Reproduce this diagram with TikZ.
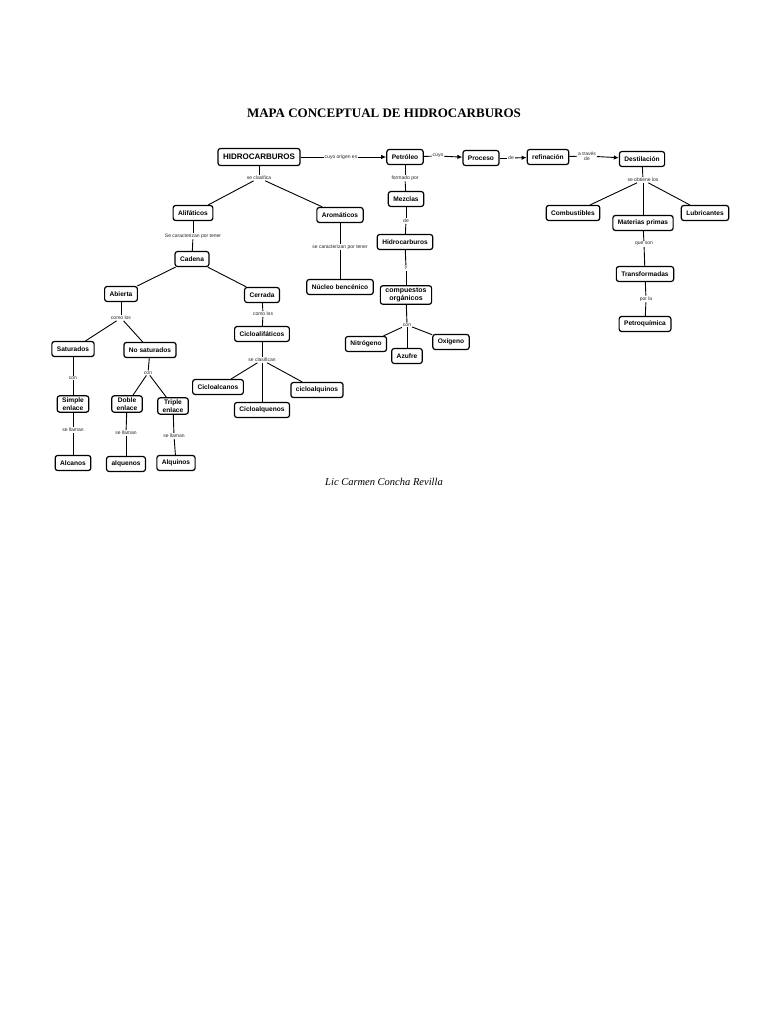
\documentclass[tikz,border=0pt]{standalone}
\usepackage{fontspec}
\setmainfont{Liberation Serif}
\setsansfont{Liberation Sans}
\usetikzlibrary{arrows.meta}

\begin{document}
\begin{tikzpicture}[x=1pt,y=-1pt,
    box/.style={draw=black,line width=1.2pt,rounded corners=2.5pt,fill=white,inner xsep=5pt,inner ysep=2pt,minimum height=15pt,align=center,font=\sffamily\bfseries\fontsize{6.6}{7.5}\selectfont},
    lbl/.style={fill=white,inner sep=0.8pt,align=center,text=black!85,font=\sffamily\fontsize{5}{5.4}\selectfont},
    every edge/.append style={line width=0.9pt},
    arr/.style={-{Latex[length=5pt,width=4.5pt]}}]
            \useasboundingbox (0,0) rectangle (768,1024);

            \node (title) at (384,113) {\fontsize{13}{15}\selectfont\bfseries MAPA CONCEPTUAL DE HIDROCARBUROS};
            \node (autor) at (384,482) {\fontsize{10.5}{12}\selectfont\itshape Lic Carmen Concha Revilla};

            % fila superior
            \node[box,font=\sffamily\bfseries\fontsize{8}{9}\selectfont,minimum height=17pt] (hc) at (259,157) {HIDROCARBUROS};
            \node[box] (pet) at (405,157) {Petróleo};
            \node[box] (proc) at (481,158) {Proceso};
            \node[box] (ref) at (548,157) {refinación};
            \node[box] (dest) at (642,159) {Destilación};
            \node[lbl] (l1) at (341,157) {cuyo origen es};
            \node[lbl] (l2) at (438,156) {cuyo};
            \node[lbl] (l3) at (511,158) {de};
            \node[lbl] (l4) at (587,156) {a través\\de};

            \path [-] (hc) edge (l1);
            \path [arr] (l1) edge (pet);
            \path [-] (pet) edge (l2);
            \path [arr] (l2) edge (proc);
            \path [-] (proc) edge (l3);
            \path [arr] (l3) edge (ref);
            \path [-] (ref) edge (l4);
            \path [arr] (l4) edge (dest);

            % destilacion
            \node[lbl] (l5) at (643,180) {se obtiene los};
            \node[box] (comb) at (573,213) {Combustibles};
            \node[box] (mat) at (643,223) {Materias primas};
            \node[box] (lub) at (705,213) {Lubricantes};
            \node[lbl] (l6) at (644,244) {que son};
            \node[box] (trans) at (645,274) {Transformadas};
            \node[lbl] (l7) at (646,299) {por la};
            \node[box] (petq) at (645,324) {Petroquímica};

            \path [-] (dest) edge (l5);
            \path [-] (l5) edge (comb);
            \path [-] (l5) edge (mat);
            \path [-] (l5) edge (lub);
            \path [-] (mat) edge (l6);
            \path [-] (l6) edge (trans);
            \path [-] (trans) edge (l7);
            \path [-] (l7) edge (petq);

            % petroleo
            \node[lbl] (l8) at (405,178) {formado por};
            \node[box] (mez) at (406,199) {Mezclas};
            \node[lbl] (l9) at (406,221) {de};
            \node[box] (hid) at (405,242) {Hidrocarburos};
            \node[lbl] (l10) at (406,268) {y};
            \node[box,font=\sffamily\bfseries\fontsize{7}{8.5}\selectfont] (comp) at (406,295) {compuestos\\orgánicos};
            \node[lbl] (l11) at (407,325) {con};
            \node[box] (nit) at (366,344) {Nitrógeno};
            \node[box] (azu) at (407,356) {Azufre};
            \node[box] (oxi) at (451,342) {Oxígeno};

            \path [-] (pet) edge (l8);
            \path [-] (l8) edge (mez);
            \path [-] (mez) edge (l9);
            \path [-] (l9) edge (hid);
            \path [-] (hid) edge (l10);
            \path [-] (l10) edge (comp);
            \path [-] (comp) edge (l11);
            \path [-] (l11) edge (nit);
            \path [-] (l11) edge (azu);
            \path [-] (l11) edge (oxi);

            % clasificacion
            \node[lbl] (l12) at (259,178) {se clasifica};
            \node[box] (ali) at (193,213) {Alifáticos};
            \node[box] (aro) at (340,215) {Aromáticos};
            \node[lbl] (l13) at (193,236) {Se caracterizan por tener};
            \node[lbl] (l14) at (340,247) {se caracterizan por tener};
            \node[box] (nuc) at (340,287) {Núcleo bencénico};
            \node[box] (cad) at (192,259) {Cadena};
            \node[box] (abi) at (121,294) {Abierta};
            \node[box] (cer) at (262,295) {Cerrada};

            \path [-] (hc) edge (l12);
            \path [-] (l12) edge (ali);
            \path [-] (l12) edge (aro);
            \path [-] (ali) edge (l13);
            \path [-] (l13) edge (cad);
            \path [-] (aro) edge (l14);
            \path [-] (l14) edge (nuc);
            \path [-] (cad) edge (abi);
            \path [-] (cad) edge (cer);

            % cadena abierta
            \node[lbl] (l15) at (121,318) {como los};
            \node[box] (sat) at (73,349) {Saturados};
            \node[box] (nosat) at (150,350) {No saturados};
            \node[lbl] (l16) at (73,378) {con};
            \node[lbl] (l17) at (148,373) {con};
            \node[box] (sim) at (73,404) {Simple\\enlace};
            \node[box] (dob) at (127,404) {Doble\\enlace};
            \node[box] (tri) at (173,406) {Triple\\enlace};
            \node[lbl] (l18) at (73,430) {se llaman};
            \node[lbl] (l19) at (126,433) {se llaman};
            \node[lbl] (l20) at (174,436) {se llaman};
            \node[box] (alc) at (73,463) {Alcanos};
            \node[box] (alq) at (126,464) {alquenos};
            \node[box] (alqi) at (176,463) {Alquinos};

            \path [-] (abi) edge (l15);
            \path [-] (l15) edge (sat);
            \path [-] (l15) edge (nosat);
            \path [-] (sat) edge (l16);
            \path [-] (l16) edge (sim);
            \path [-] (nosat) edge (l17);
            \path [-] (l17) edge (dob);
            \path [-] (l17) edge (tri);
            \path [-] (sim) edge (l18);
            \path [-] (l18) edge (alc);
            \path [-] (dob) edge (l19);
            \path [-] (l19) edge (alq);
            \path [-] (tri) edge (l20);
            \path [-] (l20) edge (alqi);

            % cadena cerrada
            \node[lbl] (l21) at (263,314) {como los};
            \node[box] (cicl) at (262,334) {Cicloalifáticos};
            \node[lbl] (l22) at (262,360) {se clasifican};
            \node[box] (calc) at (218,387) {Cicloalcanos};
            \node[box] (calq) at (262,410) {Cicloalquenos};
            \node[box] (calqi) at (317,390) {cicloalquinos};

            \path [-] (cer) edge (l21);
            \path [-] (l21) edge (cicl);
            \path [-] (cicl) edge (l22);
            \path [-] (l22) edge (calc);
            \path [-] (l22) edge (calq);
            \path [-] (l22) edge (calqi);
        \end{tikzpicture}
\end{document}
